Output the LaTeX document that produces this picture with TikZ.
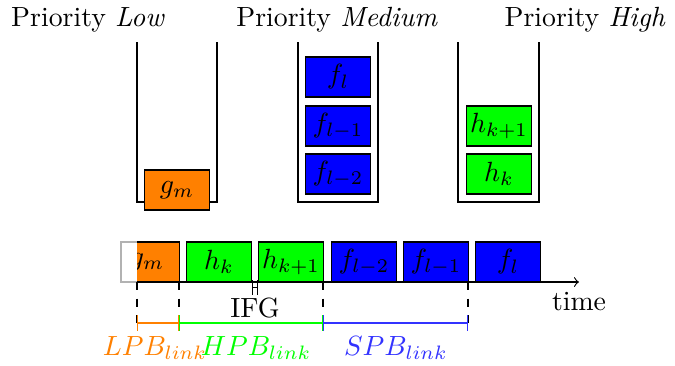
\documentclass[tikz,border=0pt]{standalone}
\usepackage{amsmath}
\usepackage{tikz}

\begin{document}
\begin{tikzpicture}[
  x=0.36pt, y=-0.36pt,
  pkt/.style={draw, inner sep=0pt, minimum width=23.4pt, minimum height=14.4pt},
  lowpkt/.style={pkt, fill=orange},
  highpkt/.style={pkt, fill=green},
  medpkt/.style={pkt, fill=blue},
  span/.style={{|-|}, thin},
  guide/.style={dashed, thin}
]
\useasboundingbox (0,0) rectangle (675,365);

% titles
\node (tlow) at (88,20) {Priority \textit{Low}};
\node (tmed) at (337,20) {Priority \textit{Medium}};
\node (thigh) at (585,20) {Priority \textit{High}};

% queues
\draw (137,42) -- (137,202) -- (217,202) -- (217,42);
\draw (298,42) -- (298,202) -- (378,202) -- (378,42);
\draw (458,42) -- (458,202) -- (539,202) -- (539,42);

\node[lowpkt] (qg) at (177,190) {$g_m$};

\node[medpkt] (qf0) at (338,77) {$f_l$};
\node[medpkt] (qf1) at (338,126) {$f_{l-1}$};
\node[medpkt] (qf2) at (338,174) {$f_{l-2}$};

\node[highpkt] (qh1) at (499,126) {$h_{k+1}$};
\node[highpkt] (qh0) at (499,174) {$h_k$};

% timeline
\draw[gray!60] (121,242) rectangle (179,282);
\begin{scope}
  \clip (137,235) rectangle (190,290);
  \node[lowpkt] (sg) at (147,262) {$g_m$};
\end{scope}
\node[highpkt] (sh0) at (219,262) {$h_k$};
\node[highpkt] (sh1) at (291,262) {$h_{k+1}$};
\node[medpkt] (sf2) at (364,262) {$f_{l-2}$};
\node[medpkt] (sf1) at (436,262) {$f_{l-1}$};
\node[medpkt] (sf0) at (508,262) {$f_l$};

\coordinate (t0) at (137,282);
\coordinate (t1) at (179,282);
\coordinate (t2) at (323,282);
\coordinate (t3) at (468,282);
\coordinate (tend) at (579,282);
\draw[->] (t0) -- (tend) node[below] (time) {time};

\coordinate (b0) at (137,323);
\coordinate (b1) at (179,323);
\coordinate (b2) at (323,323);
\coordinate (b3) at (468,323);
\draw[guide] (t0) -- (b0);
\draw[guide] (t1) -- (b1);
\draw[guide] (t2) -- (b2);
\draw[guide] (t3) -- (b3);

% inter frame gap
\coordinate (g0) at (sh0.south east);
\coordinate (g1) at (sh1.south west);
\draw[span] ([yshift=-1.8pt]g0) -- ([yshift=-1.8pt]g1);
\node (ifg) at (255,308) {IFG};

% blocking spans
\draw[span, orange] (b0) -- (b1);
\draw[span, green] (b1) -- (b2);
\draw[span, blue!80] (b2) -- (b3);
\node[text=orange, inner sep=0pt] (lpb) at (155,348) {$LPB_{link}$};
\node[text=green, inner sep=0pt] (hpb) at (256,348) {$HPB_{link}$};
\node[text=blue!80] (spb) at (396,348) {$SPB_{link}$};
\end{tikzpicture}
\end{document}
